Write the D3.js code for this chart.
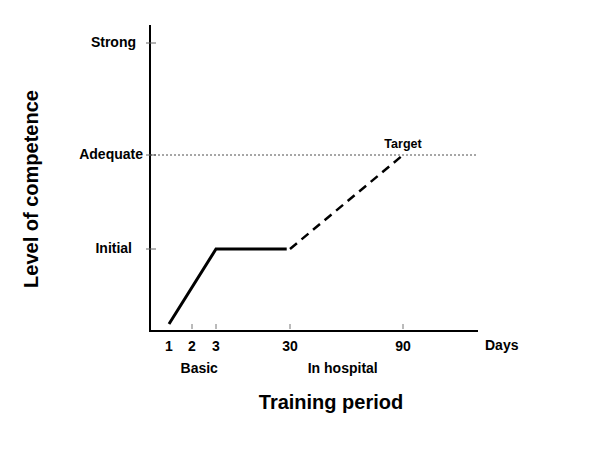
<!DOCTYPE html>
<meta charset="utf-8">
<style>
body { margin: 0; background: #fff; font-family: "Liberation Sans", Arial, sans-serif; }
text { font-weight: bold; fill: #000; }
.tick-lab { font-size: 14px; }
.axis-title { font-size: 20px; }
</style>
<body>
<script src="https://d3js.org/d3.v7.min.js"></script>
<script>
// days shown on the x axis (not evenly spaced)
var days = [1, 2, 3, 30, 90];
// competence levels on the y axis
var levels = ["Initial", "Adequate", "Strong"];
var levelValues = [1, 2, 3];
// training progress: solid part, then the planned (dashed) part
var solidDays = [1, 3, 30];
var solidLevel = [0, 1, 1];
var dashedDays = [30, 90];
var dashedLevel = [1, 2];
var targetLevel = 2;
var phases = ["Basic", "In hospital"];
var phaseDays = [2.3, 58];

var svg = d3.select("body").append("svg")
    .attr("width", 600)
    .attr("height", 450);

// piecewise scales so the short basic period gets room
var x = d3.scaleLinear()
    .domain([0, 1, 2, 3, 30, 90, 120])
    .range([150, 169, 192, 216, 290, 403, 477]);
var y = d3.scaleLinear()
    .domain([0, 1, 2, 3])
    .range([324, 249, 155, 43]);

// axes
svg.append("line").attr("x1", 150).attr("x2", 150).attr("y1", 25).attr("y2", 331)
    .attr("stroke", "#000").attr("stroke-width", 2);
svg.append("line").attr("x1", 149).attr("x2", 478).attr("y1", 331).attr("y2", 331)
    .attr("stroke", "#000").attr("stroke-width", 2);

// y ticks
svg.selectAll(".ytick").data(levelValues).enter().append("line")
    .attr("x1", 146).attr("x2", 156)
    .attr("y1", d => y(d)).attr("y2", d => y(d))
    .attr("stroke", "#666").attr("stroke-width", 1);
var labelEnd = [132, 143, 136];
svg.selectAll(".ylab").data(levels).enter().append("text")
    .attr("class", "tick-lab")
    .attr("x", (d, i) => labelEnd[i])
    .attr("y", (d, i) => y(levelValues[i]) + 4)
    .attr("text-anchor", "end")
    .text(d => d);

// x ticks
svg.selectAll(".xtick").data(days.slice(1)).enter().append("line")
    .attr("x1", d => x(d)).attr("x2", d => x(d))
    .attr("y1", 324).attr("y2", 329)
    .attr("stroke", "#777").attr("stroke-width", 1);
svg.selectAll(".xlab").data(days).enter().append("text")
    .attr("class", "tick-lab")
    .attr("x", d => x(d))
    .attr("y", 351)
    .attr("text-anchor", "middle")
    .text(d => d);
svg.append("text").attr("class", "tick-lab")
    .attr("x", 485).attr("y", 350).text("Days");

svg.selectAll(".phase").data(phases).enter().append("text")
    .attr("class", "tick-lab")
    .attr("x", (d, i) => x(phaseDays[i]))
    .attr("y", 373)
    .attr("text-anchor", "middle")
    .text(d => d);

// target line
svg.append("line")
    .attr("x1", 150).attr("x2", 476)
    .attr("y1", y(targetLevel)).attr("y2", y(targetLevel))
    .attr("stroke", "#222").attr("stroke-width", 0.8)
    .attr("stroke-dasharray", "2,2");
svg.append("text")
    .attr("x", x(90)).attr("y", y(targetLevel) - 7)
    .attr("text-anchor", "middle")
    .style("font-size", "12.5px")
    .text("Target");

var line = d3.line().x(d => x(d[0])).y(d => y(d[1]));

svg.append("path")
    .attr("d", line(d3.zip(solidDays, solidLevel).map((d, i, a) =>
        i === a.length - 1 ? [d[0] - 1.2, d[1]] : d)))
    .attr("fill", "none").attr("stroke", "#000").attr("stroke-width", 3);

svg.append("path")
    .attr("d", line(d3.zip(dashedDays, dashedLevel)))
    .attr("fill", "none").attr("stroke", "#000").attr("stroke-width", 2.5)
    .attr("stroke-dasharray", "9,6");

// axis titles
svg.append("text").attr("class", "axis-title")
    .attr("x", 331).attr("y", 409)
    .attr("text-anchor", "middle")
    .text("Training period");
svg.append("text").attr("class", "axis-title")
    .attr("transform", "translate(38,189) rotate(-90)")
    .attr("text-anchor", "middle")
    .text("Level of competence");
</script>
</body>
